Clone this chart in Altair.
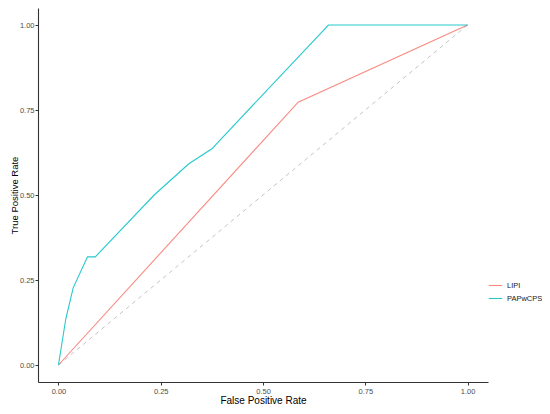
import altair as alt
import pandas as pd

# ROC curve points
pap_fpr = [0.0, 0.018, 0.036, 0.071, 0.090, 0.234, 0.318, 0.375, 0.660, 1.0]
pap_tpr = [0.0, 0.136, 0.227, 0.318, 0.318, 0.500, 0.591, 0.636, 1.000, 1.0]
lipi_fpr = [0.0, 0.586, 1.0]
lipi_tpr = [0.0, 0.773, 1.0]
diag_x = [0.0, 1.0]
diag_y = [0.0, 1.0]
tick_vals = [0.0, 0.25, 0.5, 0.75, 1.0]

rows = []
for i, (x, y) in enumerate(zip(lipi_fpr, lipi_tpr)):
    rows.append({"model": "LIPI", "fpr": x, "tpr": y, "order": i})
for i, (x, y) in enumerate(zip(pap_fpr, pap_tpr)):
    rows.append({"model": "PAPwCPS", "fpr": x, "tpr": y, "order": i})
df = pd.DataFrame(rows)
diag = pd.DataFrame({"fpr": diag_x, "tpr": diag_y})

xscale = alt.Scale(domain=[-0.05, 1.05], nice=False, zero=False)
yscale = alt.Scale(domain=[-0.05, 1.05], nice=False, zero=False)

xaxis = alt.Axis(title="False Positive Rate", values=tick_vals, format=".2f",
                 labelPadding=2, titlePadding=1)
yaxis = alt.Axis(title="True Positive Rate", values=tick_vals, format=".2f",
                 labelPadding=1, titlePadding=0, titleFontSize=9.5)

diag_line = alt.Chart(diag).mark_line(
    color="#C4C4C4", strokeDash=[4, 4], strokeWidth=1
).encode(
    x=alt.X("fpr:Q", scale=xscale, axis=xaxis),
    y=alt.Y("tpr:Q", scale=yscale, axis=yaxis),
)

curves = alt.Chart(df).mark_line(strokeWidth=1.1, opacity=0.85).encode(
    x=alt.X("fpr:Q", scale=xscale, axis=xaxis),
    y=alt.Y("tpr:Q", scale=yscale, axis=yaxis),
    order="order:Q",
    color=alt.Color(
        "model:N",
        scale=alt.Scale(domain=["LIPI", "PAPwCPS"], range=["#F8766D", "#00BFC4"]),
        legend=alt.Legend(
            title=None, orient="none", legendX=450, legendY=270,
            symbolType="stroke", symbolSize=180, symbolStrokeWidth=1.1,
            symbolOpacity=0.85,
            labelFontSize=7.5, labelColor="#1A1A1A", labelFont="Liberation Sans",
            labelOffset=4, rowPadding=2,
        ),
    ),
)

chart = alt.layer(diag_line, curves).properties(
    width=450,
    height=374,
    autosize=alt.AutoSizeParams(type="none"),
    padding={"left": 30, "top": 0, "right": 54, "bottom": 24},
).configure_view(
    stroke=None
).configure_axis(
    grid=False,
    domainColor="#333333",
    domainWidth=1.1,
    tickColor="#333333",
    tickSize=3,
    labelColor="#4D4D4D",
    labelFontSize=7.5,
    labelFont="Liberation Sans",
    titleFont="Liberation Sans",
    titleFontSize=10,
    titleFontWeight="normal",
    titleColor="#000000",
)

chart.save("out.html", embed_options={"renderer": "svg", "actions": False})
